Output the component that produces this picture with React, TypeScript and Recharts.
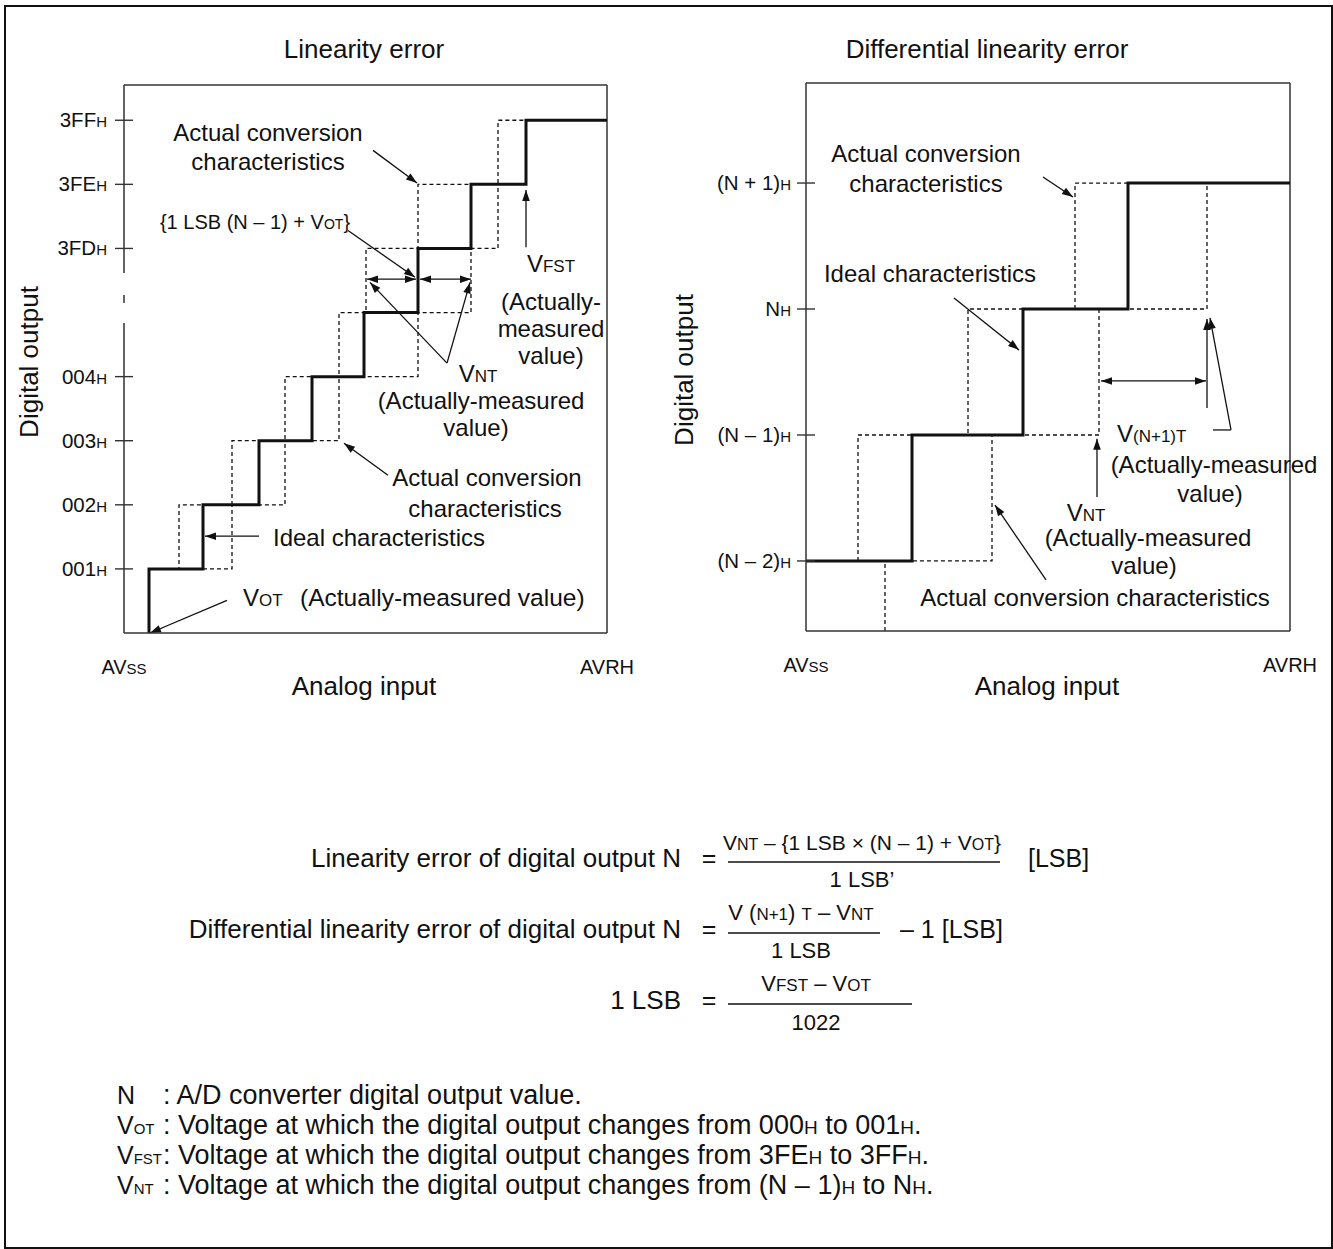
import React from 'react';
import { LineChart, Line, XAxis, YAxis, ReferenceLine } from 'recharts';

const FONT = "'Liberation Sans', Arial, Helvetica, sans-serif";
const INK = '#111';
const FRAME = '#333';

type Pt = { x: number; y: number };
type Arrow = { from: Pt; to: Pt; heads: 'end' | 'both' | 'none' };
type Rich = Array<[string, boolean]>; // [text, small]

// ---------------- Linearity error (left) ----------------
const linXMax = 483;
const linYMax = 8.55;
const linTickValues = [1, 2, 3, 4, 6, 7, 8];
const linTickLabels = ['001', '002', '003', '004', '3FD', '3FE', '3FF'];
const linIdeal: Pt[] = [
  { x: 25, y: 0 }, { x: 25, y: 1 }, { x: 79, y: 2 }, { x: 135, y: 3 }, { x: 188, y: 4 },
  { x: 240, y: 5 }, { x: 294, y: 6 }, { x: 347, y: 7 }, { x: 402, y: 8 }, { x: 483, y: 8 },
];
const linActualEarly: Pt[] = [
  { x: 25, y: 1 }, { x: 55, y: 2 }, { x: 108, y: 3 }, { x: 161, y: 4 }, { x: 215, y: 5 },
  { x: 242, y: 6 }, { x: 294, y: 7 }, { x: 374, y: 8 }, { x: 402, y: 8 },
];
const linActualLate: Pt[] = [
  { x: 79, y: 1 }, { x: 108, y: 2 }, { x: 161, y: 3 }, { x: 215, y: 4 }, { x: 294, y: 5 },
  { x: 347, y: 6 }, { x: 374, y: 7 },
];
const linArrows: Arrow[] = [
  { from: { x: 249, y: 7.53 }, to: { x: 293, y: 7.02 }, heads: 'end' },
  { from: { x: 224, y: 6.28 }, to: { x: 291, y: 5.55 }, heads: 'end' },
  { from: { x: 243, y: 5.52 }, to: { x: 292, y: 5.52 }, heads: 'both' },
  { from: { x: 296, y: 5.52 }, to: { x: 347, y: 5.52 }, heads: 'both' },
  { from: { x: 323, y: 4.21 }, to: { x: 246, y: 5.47 }, heads: 'end' },
  { from: { x: 323, y: 4.21 }, to: { x: 346, y: 5.47 }, heads: 'end' },
  { from: { x: 402, y: 6.02 }, to: { x: 402, y: 6.91 }, heads: 'end' },
  { from: { x: 264, y: 2.46 }, to: { x: 220, y: 2.96 }, heads: 'end' },
  { from: { x: 135, y: 1.51 }, to: { x: 81, y: 1.51 }, heads: 'end' },
  { from: { x: 103, y: 0.51 }, to: { x: 26, y: 0.0 }, heads: 'end' },
];

// ---------------- Differential linearity error (right) ----------------
const difXMax = 484;
const difYMin = -2.556;
const difYMax = 1.794;
const difTickValues = [-2, -1, 0, 1];
const difTickLabels = ['(N – 2)', '(N – 1)', 'N', '(N + 1)'];
const difIdeal: Pt[] = [
  { x: 0, y: -2 }, { x: 106, y: -1 }, { x: 217, y: 0 }, { x: 322, y: 1 }, { x: 484, y: 1 },
];
const difActualEarly: Pt[] = [
  { x: 52, y: -2 }, { x: 52, y: -1 }, { x: 162, y: 0 }, { x: 269, y: 1 }, { x: 322, y: 1 },
];
const difActualLate: Pt[] = [
  { x: 79, y: difYMin }, { x: 79, y: -2 }, { x: 186, y: -1 }, { x: 293, y: 0 }, { x: 401, y: 1 },
];
const difArrows: Arrow[] = [
  { from: { x: 237, y: 1.048 }, to: { x: 267, y: 0.889 }, heads: 'end' },
  { from: { x: 148, y: 0.087 }, to: { x: 213, y: -0.325 }, heads: 'end' },
  { from: { x: 295, y: -0.571 }, to: { x: 400, y: -0.571 }, heads: 'both' },
  { from: { x: 401, y: -0.786 }, to: { x: 401, y: -0.08 }, heads: 'end' },
  { from: { x: 407, y: -0.96 }, to: { x: 425, y: -0.96 }, heads: 'none' },
  { from: { x: 425, y: -0.96 }, to: { x: 404, y: -0.07 }, heads: 'end' },
  { from: { x: 291, y: -1.492 }, to: { x: 291, y: -1.03 }, heads: 'end' },
  { from: { x: 240, y: -2.151 }, to: { x: 189, y: -1.556 }, heads: 'end' },
];

// ---------------- helpers ----------------
function makeArrow(heads: 'end' | 'both' | 'none') {
  return (p: any) => {
    const { x1, y1, x2, y2 } = p;
    const dx = x2 - x1;
    const dy = y2 - y1;
    const len = Math.hypot(dx, dy) || 1;
    const ux = dx / len;
    const uy = dy / len;
    const L = 11;
    const W = 3.8;
    const head = (tx: number, ty: number, vx: number, vy: number) => {
      const bx = tx - vx * L;
      const by = ty - vy * L;
      return `${tx},${ty} ${bx - vy * W},${by + vx * W} ${bx + vy * W},${by - vx * W}`;
    };
    return (
      <g>
        <line x1={x1} y1={y1} x2={x2} y2={y2} stroke={INK} strokeWidth={1.3} />
        {heads !== 'none' && <polygon points={head(x2, y2, ux, uy)} fill={INK} />}
        {heads === 'both' && <polygon points={head(x1, y1, -ux, -uy)} fill={INK} />}
      </g>
    );
  };
}

const makeYTick = (values: number[], labels: string[], gap: number) => (props: any) => {
  const { x, y, payload } = props;
  const i = values.indexOf(payload.value);
  return (
    <g>
      <line x1={x - 9} x2={x + 9} y1={y} y2={y} stroke={FRAME} strokeWidth={1.4} />
      <text x={x - gap} y={y + 7} textAnchor="end" fontFamily={FONT} fontSize={20.5} fill={INK}>
        {labels[i]}
        <tspan fontSize={15}>H</tspan>
      </text>
    </g>
  );
};

const makeXTick = (xMax: number) => (props: any) => {
  const { x, y, payload } = props;
  const isEnd = payload.value === xMax;
  return (
    <text x={x} y={y + 41} textAnchor="middle" fontFamily={FONT} fontSize={20} fill={INK}>
      {isEnd ? 'AVRH' : 'AV'}
      {!isEnd && <tspan fontSize={15}>SS</tspan>}
    </text>
  );
};

function RT({ x, y, parts, size = 24, anchor = 'middle', small }: { x: number; y: number; parts: Rich; size?: number; anchor?: 'start' | 'middle' | 'end'; small?: number }) {
  const s = small ?? Math.round(size * 0.7);
  return (
    <text x={x} y={y} textAnchor={anchor} fontFamily={FONT} fontSize={size} fill={INK}>
      {parts.map(([t, sm], i) => (
        <tspan key={i} fontSize={sm ? s : size}>{t}</tspan>
      ))}
    </text>
  );
}

function StepChart(props: {
  width: number; height: number; margin: any; yWidth: number; xHeight: number;
  xMax: number; yMin: number; yMax: number; ticks: number[]; tickLabels: string[]; tickGap: number;
  ideal: Pt[]; early: Pt[]; late: Pt[]; arrows: Arrow[]; axisDash?: string;
}) {
  const p = props;
  return (
    <LineChart width={p.width} height={p.height} margin={p.margin}>
      <XAxis
        type="number" dataKey="x" domain={[0, p.xMax]} ticks={[0, p.xMax]} height={p.xHeight}
        tickLine={false} tickSize={0} tickMargin={0} tick={makeXTick(p.xMax)}
        axisLine={{ stroke: FRAME, strokeWidth: 1.5 }} allowDataOverflow
      />
      <YAxis
        type="number" dataKey="y" domain={[p.yMin, p.yMax]} ticks={p.ticks} width={p.yWidth}
        tickLine={false} tickSize={0} tickMargin={0} tick={makeYTick(p.ticks, p.tickLabels, p.tickGap)}
        axisLine={{ stroke: FRAME, strokeWidth: 1.5, strokeDasharray: p.axisDash }} allowDataOverflow interval={0}
      />
      <ReferenceLine y={p.yMax} stroke={FRAME} strokeWidth={1.5} />
      <ReferenceLine x={p.xMax} stroke={FRAME} strokeWidth={1.5} />
      <Line data={p.early} dataKey="y" type="stepAfter" stroke={INK} strokeWidth={1.3} strokeDasharray="4 3" dot={false} isAnimationActive={false} />
      <Line data={p.late} dataKey="y" type="stepAfter" stroke={INK} strokeWidth={1.3} strokeDasharray="4 3" dot={false} isAnimationActive={false} />
      <Line data={p.ideal} dataKey="y" type="stepAfter" stroke={INK} strokeWidth={3} dot={false} isAnimationActive={false} />
      {p.arrows.map((a, i) => (
        <ReferenceLine key={i} segment={[a.from, a.to]} shape={makeArrow(a.heads)} ifOverflow="visible" />
      ))}
    </LineChart>
  );
}

const legendRows: Array<{ sym: Rich; text: Rich }> = [
  { sym: [['N', false]], text: [[': A/D converter digital output value.', false]] },
  { sym: [['V', false], ['OT', true]], text: [[': Voltage at which the digital output changes from 000', false], ['H', true], [' to 001', false], ['H', true], ['.', false]] },
  { sym: [['V', false], ['FST', true]], text: [[': Voltage at which the digital output changes from 3FE', false], ['H', true], [' to 3FF', false], ['H', true], ['.', false]] },
  { sym: [['V', false], ['NT', true]], text: [[': Voltage at which the digital output changes from (N – 1)', false], ['H', true], [' to N', false], ['H', true], ['.', false]] },
];

export default function App() {
  return (
    <div style={{ position: 'absolute', left: 0, top: 0, width: 1333, height: 1249, background: '#fff', fontFamily: FONT }}>
      <div style={{ position: 'absolute', left: 4, top: 5, width: 1325, height: 1240, border: '2px solid #111' }} />
      <div style={{ position: 'absolute', left: 0, top: 0 }}>
        <StepChart
          width={660} height={720} margin={{ top: 85, right: 53, bottom: 0, left: 0 }} yWidth={124} xHeight={87}
          xMax={linXMax} yMin={0} yMax={linYMax} ticks={linTickValues} tickLabels={linTickLabels} tickGap={17}
          ideal={linIdeal} early={linActualEarly} late={linActualLate} arrows={linArrows} axisDash="188 22 8 20 2000"
        />
      </div>
      <div style={{ position: 'absolute', left: 660, top: 0 }}>
        <StepChart
          width={673} height={720} margin={{ top: 83, right: 43, bottom: 0, left: 0 }} yWidth={146} xHeight={89}
          xMax={difXMax} yMin={difYMin} yMax={difYMax} ticks={difTickValues} tickLabels={difTickLabels} tickGap={15}
          ideal={difIdeal} early={difActualEarly} late={difActualLate} arrows={difArrows}
        />
      </div>
      <svg width={1333} height={1249} style={{ position: 'absolute', left: 0, top: 0, pointerEvents: 'none' }}>
        {/* left chart texts */}
        <RT x={364} y={58} size={26} parts={[['Linearity error', false]]} />
        <RT x={268} y={141} parts={[['Actual conversion', false]]} />
        <RT x={268} y={170} parts={[['characteristics', false]]} />
        <RT x={255} y={229} size={20} parts={[['{1 LSB (N – 1) + V', false], ['OT', true], ['}', false]]} />
        <RT x={551} y={272} parts={[['V', false], ['FST', true]]} />
        <RT x={551} y={310} parts={[['(Actually-', false]]} />
        <RT x={551} y={337} parts={[['measured', false]]} />
        <RT x={551} y={364} parts={[['value)', false]]} />
        <RT x={478} y={382} parts={[['V', false], ['NT', true]]} />
        <RT x={481} y={409} parts={[['(Actually-measured', false]]} />
        <RT x={476} y={436} parts={[['value)', false]]} />
        <RT x={487} y={486} parts={[['Actual conversion', false]]} />
        <RT x={485} y={517} parts={[['characteristics', false]]} />
        <RT x={273} y={546} anchor="start" parts={[['Ideal characteristics', false]]} />
        <RT x={243} y={606} anchor="start" parts={[['V', false], ['OT', true]]} />
        <RT x={300} y={606} anchor="start" size={24.5} parts={[['(Actually-measured value)', false]]} />
        <g transform="translate(38,362) rotate(-90)">
          <RT x={0} y={0} size={26} parts={[['Digital output', false]]} />
        </g>
        <RT x={364} y={695} size={26} parts={[['Analog input', false]]} />

        {/* right chart texts */}
        <RT x={987} y={58} size={26} parts={[['Differential linearity error', false]]} />
        <RT x={926} y={162} parts={[['Actual conversion', false]]} />
        <RT x={926} y={192} parts={[['characteristics', false]]} />
        <RT x={930} y={282} parts={[['Ideal characteristics', false]]} />
        <RT x={1117} y={442} anchor="start" parts={[['V', false], ['(N+1)T', true]]} />
        <RT x={1214} y={473} parts={[['(Actually-measured', false]]} />
        <RT x={1210} y={502} parts={[['value)', false]]} />
        <RT x={1086} y={521} parts={[['V', false], ['NT', true]]} />
        <RT x={1148} y={546} parts={[['(Actually-measured', false]]} />
        <RT x={1144} y={574} parts={[['value)', false]]} />
        <RT x={1095} y={606} parts={[['Actual conversion characteristics', false]]} />
        <g transform="translate(693,370) rotate(-90)">
          <RT x={0} y={0} size={26} parts={[['Digital output', false]]} />
        </g>
        <RT x={1047} y={695} size={26} parts={[['Analog input', false]]} />

        {/* formulas */}
        <RT x={681} y={867} anchor="end" size={26} parts={[['Linearity error of digital output N', false]]} />
        <RT x={709} y={867} size={25} parts={[['=', false]]} />
        <RT x={862} y={850} size={21} small={16} parts={[['V', false], ['NT', true], [' – {1 LSB × (N – 1) + V', false], ['OT', true], ['}', false]]} />
        <line x1={728} x2={1000} y1={862} y2={862} stroke={INK} strokeWidth={1.5} />
        <RT x={862} y={887} size={22} parts={[['1 LSB’', false]]} />
        <RT x={1028} y={867} anchor="start" size={25} parts={[['[LSB]', false]]} />

        <RT x={681} y={938} anchor="end" size={26} parts={[['Differential linearity error of digital output N', false]]} />
        <RT x={709} y={938} size={25} parts={[['=', false]]} />
        <RT x={801} y={920} size={22} small={17} parts={[['V (', false], ['N+1', true], [') ', false], ['T', true], [' – V', false], ['NT', true]]} />
        <line x1={728} x2={880} y1={933} y2={933} stroke={INK} strokeWidth={1.5} />
        <RT x={801} y={958} size={22} parts={[['1 LSB', false]]} />
        <RT x={900} y={938} anchor="start" size={25} parts={[['– 1 [LSB]', false]]} />

        <RT x={681} y={1009} anchor="end" size={26} parts={[['1 LSB', false]]} />
        <RT x={709} y={1009} size={25} parts={[['=', false]]} />
        <RT x={816} y={991} size={22} small={17} parts={[['V', false], ['FST', true], [' – V', false], ['OT', true]]} />
        <line x1={728} x2={912} y1={1004} y2={1004} stroke={INK} strokeWidth={1.5} />
        <RT x={816} y={1030} size={22} parts={[['1022', false]]} />

        {/* legend */}
        {legendRows.map((r, i) => (
          <g key={i}>
            <RT x={117} y={1104 + i * 30} anchor="start" size={25} small={15} parts={r.sym} />
            <RT x={163} y={1104 + i * 30} anchor="start" size={27} small={19} parts={r.text} />
          </g>
        ))}
      </svg>
    </div>
  );
}
